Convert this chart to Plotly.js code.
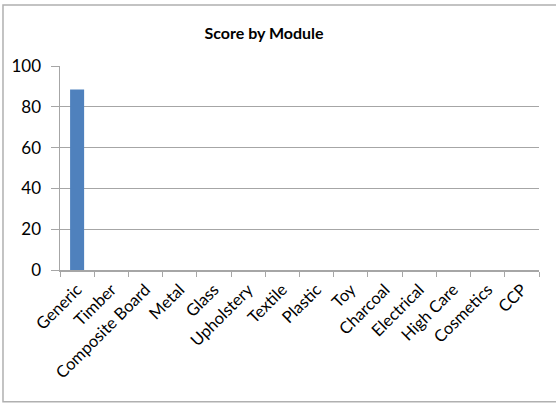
<!DOCTYPE html>
<html>
<head>
<meta charset="utf-8">
<script src="https://cdn.plot.ly/plotly-3.0.1.min.js"></script>
<style>
html,body{margin:0;padding:0;background:#fff;}
#chart{width:556px;height:403px;}
</style>
</head>
<body>
<div id="chart"></div>
<script>
const categories = ["Generic","Timber","Composite Board","Metal","Glass","Upholstery","Textile","Plastic","Toy","Charcoal","Electrical","High Care","Cosmetics","CCP"];
const scores = [88.5,0,0,0,0,0,0,0,0,0,0,0,0,0];
const yTicks = [0,20,40,60,80,100];

const fontFam = "Lato, 'Open Sans', sans-serif";
const grey = "#a6a6a6";

const trace = {
  type: "bar",
  x: categories,
  y: scores,
  marker: {color: "#4F81BD"},
  hoverinfo: "x+y"
};

const layout = {
  width: 556,
  height: 403,
  margin: {l: 60, r: 17, t: 66, b: 133},
  paper_bgcolor: "#fff",
  plot_bgcolor: "#fff",
  bargap: 0.59,
  showlegend: false,
  font: {family: fontFam, color: "#000", size: 16},
  title: {
    text: "<b>Score by Module</b>",
    font: {family: fontFam, size: 16, color: "#000"},
    x: 0.426, xref: "paper", xanchor: "center",
    y: 33, yref: "container", yanchor: "middle"
  },
  xaxis: {
    type: "category",
    tickangle: -45,
    tickson: "boundaries",
    ticks: "outside",
    ticklen: 5,
    tickcolor: grey,
    showline: true,
    linecolor: grey,
    linewidth: 1.5,
    showgrid: false,
    ticklabelstandoff: 2,
    tickfont: {family: fontFam, size: 16.5, color: "#000"},
    automargin: false
  },
  yaxis: {
    range: [0, 100],
    tickvals: yTicks,
    ticktext: yTicks.map(String),
    ticks: "outside",
    ticklen: 8,
    tickcolor: grey,
    showline: true,
    linecolor: grey,
    linewidth: 1.5,
    showgrid: true,
    gridcolor: grey,
    gridwidth: 1,
    zeroline: false,
    ticklabelstandoff: 6,
    tickfont: {family: fontFam, size: 17, color: "#000"},
    automargin: false
  },
  shapes: [{
    type: "rect", xref: "paper", yref: "paper",
    x0: -0.119, x1: 1.3, y0: -0.646, y1: 1.299,
    line: {color: "#b0b0b0", width: 1.5},
    fillcolor: "rgba(0,0,0,0)",
    layer: "below"
  }]
};

Plotly.newPlot("chart", [trace], layout, {displayModeBar: false, staticPlot: true});
</script>
</body>
</html>
